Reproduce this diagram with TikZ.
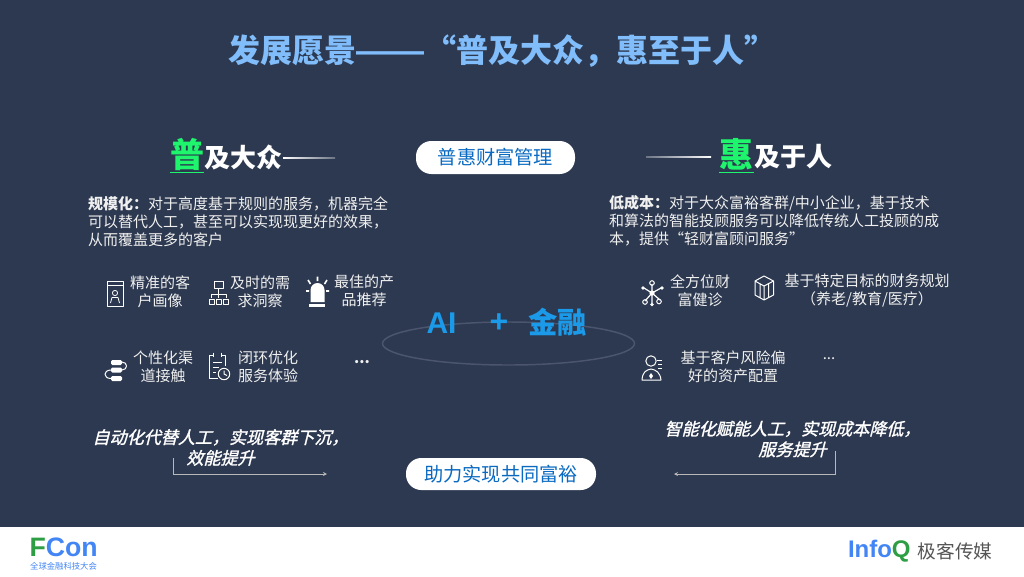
\documentclass[tikz,border=0pt]{standalone}
\usepackage{fontspec}
\setmainfont{Noto Sans CJK SC}
\newfontfamily\slantfont[FakeSlant=0.25,FakeBold=1.5]{Noto Sans CJK SC}
\newfontfamily\latinfont{Liberation Sans}
\usetikzlibrary{arrows.meta,shapes.geometric}
\definecolor{bgnavy}{HTML}{2D3950}
\definecolor{titleblue}{HTML}{80BDFA}
\definecolor{hlgreen}{HTML}{1EF56C}
\definecolor{pillblue}{HTML}{0A6AC2}
\definecolor{aiblue}{HTML}{1B9AEA}
\definecolor{logoblue}{HTML}{4285F4}
\definecolor{logogreen}{HTML}{2E9E44}
\definecolor{logogray}{HTML}{555555}
\definecolor{ringgray}{HTML}{4B566E}
\tikzset{
  txt/.style={inner sep=0pt,outer sep=0pt,text=white,font=\fontsize{11.25pt}{13.5pt}\selectfont},
  item/.style={txt,align=center,text=white!94!black},
  para/.style={txt,anchor=west,align=left,text=white!94!black},
  pill/.style={fill=white,rounded corners=11.5pt,inner sep=0pt,text=pillblue,font=\fontsize{14.4pt}{17pt}\selectfont},
  head/.style={txt,font=\fontsize{19.5pt}{22pt}\selectfont\bfseries},
  bighead/.style={txt,text=hlgreen,font=\fontsize{25.5pt}{28pt}\selectfont\bfseries},
  slogan/.style={txt,align=center,font=\fontsize{12.8pt}{15.5pt}\slantfont\selectfont},
  ico/.style={draw=white,line width=0.75pt,line join=round},
  conn/.style={draw=white!72!black,line width=0.7pt,-{Stealth[length=3pt,width=3pt]}}
}
\begin{document}
\begin{tikzpicture}[x=0.75pt,y=-0.75pt]
\useasboundingbox (0,0) rectangle (1024,576);
\fill[bgnavy] (0,0) rectangle (1024,527);
\fill[white] (0,527) rectangle (1024,576);
% title
\node[txt,anchor=west,text=titleblue,font=\fontsize{24pt}{28pt}\selectfont\bfseries] (title) at (228,51) {发展愿景{\fontsize{25.5pt}{28pt}\latinfont\bfseries\selectfont ——}“普及大众，惠至于人”};
% heads
\node[bighead] (pu) at (187,154) {普};
\node[head,anchor=west] (puh) at (204,157) {及大众};
\draw[hlgreen,line width=1.1pt] (170,172.3) -- (204,172.3);
\shade[left color=white,right color=bgnavy!70!white] (283,157) rectangle (335,158);
\node[bighead] (hui) at (736.5,154) {惠};
\node[head,anchor=west] (huih) at (754,157) {及于人};
\draw[hlgreen,line width=1.1pt] (719,172.3) -- (754,172.3);
\shade[left color=bgnavy!70!white,right color=white] (646,156.5) rectangle (711,157.5);
% pills
\node[pill,minimum width=119.25pt,minimum height=24.75pt] (p1) at (495.5,157.5) {普惠财富管理};
\node[pill,minimum width=142.5pt,minimum height=24pt] (p2) at (501,474) {助力实现共同富裕};
% paragraphs
\node[para] (lp1) at (88,204) {\textbf{规模化：}对于高度基于规则的服务，机器完全};
\node[para] (lp2) at (88,222) {可以替代人工，甚至可以实现现更好的效果，};
\node[para] (lp3) at (88,240) {从而覆盖更多的客户};
\node[para] (rp1) at (609,203) {\textbf{低成本：}对于大众富裕客群/中小企业，基于技术};
\node[para] (rp2) at (609,221) {和算法的智能投顾服务可以降低传统人工投顾的成};
\node[para] (rp3) at (609,239) {本，提供“轻财富顾问服务”};
% items
\node[item] (i1) at (160,291.5) {精准的客\\户画像};
\node[item] (i2) at (260,291.5) {及时的需\\求洞察};
\node[item] (i3) at (364,290.5) {最佳的产\\品推荐};
\node[item] (i4) at (163,367) {个性化渠\\道接触};
\node[item] (i5) at (268,367) {闭环优化\\服务体验};
\node[item,font=\fontsize{11.25pt}{13.5pt}\selectfont\bfseries] (i6) at (362,362) {...};
\node[item] (j1) at (700,291) {全方位财\\富健诊};
\node[item] (j2) at (867,290) {基于特定目标的财务规划\\（养老/教育/医疗）};
\node[item] (j3) at (733,367) {基于客户风险偏\\好的资产配置};
\node[item] (j4) at (829,359) {...};
% centre
\draw[ringgray,line width=1.1pt] (508.5,343.5) ellipse [x radius=126,y radius=21.5];
\node[txt,text=aiblue,font=\fontsize{22.5pt}{26pt}\latinfont\bfseries\selectfont] (ai) at (441.5,323.5) {AI};
\node[txt,text=aiblue,font=\fontsize{24pt}{26pt}\latinfont\bfseries\selectfont] (plus) at (499,323.5) {+};
\node[txt,text=aiblue,font=\fontsize{22pt}{26pt}\selectfont\bfseries] (jr) at (557.5,322) {金融};
% slogans
\node[slogan] (s1) at (220.5,447.5) {自动化代替人工，实现客群下沉，\\效能提升};
\node[slogan] (s2) at (792.5,439) {智能化赋能人工，实现成本降低，\\服务提升};
\coordinate (c1a) at (173,458);
\coordinate (c1b) at (173,474);
\coordinate (c1c) at (327,474);
\coordinate (c2a) at (835,451);
\coordinate (c2b) at (835,474);
\coordinate (c2c) at (674,474);
\draw[conn] (c1a) -- (c1b) -- (c1c);
\draw[conn] (c2a) -- (c2b) -- (c2c);
% icon portrait
\draw[ico] (107,281) rectangle (123,306);
\draw[ico] (107,285) -- (123,285);
\draw[ico,line width=0.6pt] (115,293) circle (2.6) (110.5,303) -- (112,297.5) -- (118,297.5) -- (119.5,303);
% icon org chart
\draw[ico] (214.5,281) rectangle (223,288) (218.7,288) -- (218.7,298) (211.5,298) -- (211.5,294) -- (226,294) -- (226,298);
\draw[ico] (209,299) rectangle (214,304) (216.5,299) rectangle (221,304) (223.5,299) rectangle (228,304);
% icon alarm
\fill[white] (310.5,302) -- (310.5,290) arc (180:360:7) -- (324.5,302) -- cycle;
\fill[white] (309,303.5) rectangle (325,306.5);
\draw[ico,line width=1.2pt] (317.5,276.5) -- (317.5,281) (308,280) -- (310.5,284) (327,280) -- (324.5,284) (306,291) -- (309,291) (326,291) -- (329,291);
% icon stack
\fill[white,rounded corners=1pt] (111,360) rectangle (122,365);
\fill[white,rounded corners=1pt] (111,367.5) rectangle (122,372.5);
\fill[white,rounded corners=1pt] (111,376) rectangle (122,381);
\draw[ico] (122,362) .. controls (128,362) and (128,370) .. (122,370);
\draw[ico] (111,370) .. controls (103,370) and (103,378.5) .. (111,378.5);
% icon doc clock
\draw[ico] (213,355) -- (209,355) -- (209,378) -- (218,378) (225,366) -- (225,355) -- (221,355) (213,352.5) -- (213,357) (221,352.5) -- (221,357) (213,362) -- (222,362) (213,367) -- (219,367) (213,372) -- (216,372);
\draw[ico] (224,374) circle (5.7) (224,370.5) -- (224,374) -- (227,375.5);
% icon network
\draw[ico,line width=0.9pt] (652,293) -- (652,284) (652,293) -- (661,288) (652,293) -- (644,288) (652,293) -- (645,301) (652,293) -- (660,300) (652,293) -- (652,303);
\fill[white] (652,293) circle (2.6);
\draw[ico] (652,283) circle (2.3) (645,302) circle (2.3) (659,301.5) circle (2.3);
\fill[white] (662,288) circle (1.8) (643,288) circle (1.8) (652,304.5) circle (1.8);
% icon cube
\draw[ico] (764,276) -- (773.5,281) -- (773.5,295) -- (764,300) -- (755,295) -- (755,281) -- cycle (755,281) -- (764,286) -- (773.5,281) (764,286) -- (764,300) (760,283.5) -- (760,297.5) (768.5,284) -- (768.5,297.5);
% icon person
\draw[ico] (651,361) circle (5.2) (642,380) .. controls (642.5,372) and (646,370) .. (651,369) .. controls (656,370) and (660,372) .. (661,380) -- cycle;
\fill[white] (651,373) -- (653,376) -- (651,379) -- (649,376) -- cycle;
\draw[ico] (657,360) -- (662,360) (658,364) -- (662,364) (658,368) -- (662,368);
% logos
\node[txt,anchor=west,font=\fontsize{20pt}{20pt}\latinfont\bfseries\selectfont] (fcon) at (29.5,547.5) {\textcolor{logogreen}{F}\textcolor{logoblue}{Con}};
\node[txt,text=logoblue,font=\fontsize{6.25pt}{7pt}\selectfont] (fsub) at (63.5,566) {全球金融科技大会};
\node[txt,anchor=west,font=\fontsize{18pt}{22pt}\latinfont\bfseries\selectfont] (infoq) at (848,551) {\textcolor{logoblue}{Info}\textcolor{logogreen}{Q}};
\node[txt,text=logogray,font=\fontsize{14pt}{17pt}\selectfont] (jk) at (955,551) {极客传媒};
\end{tikzpicture}
\end{document}
